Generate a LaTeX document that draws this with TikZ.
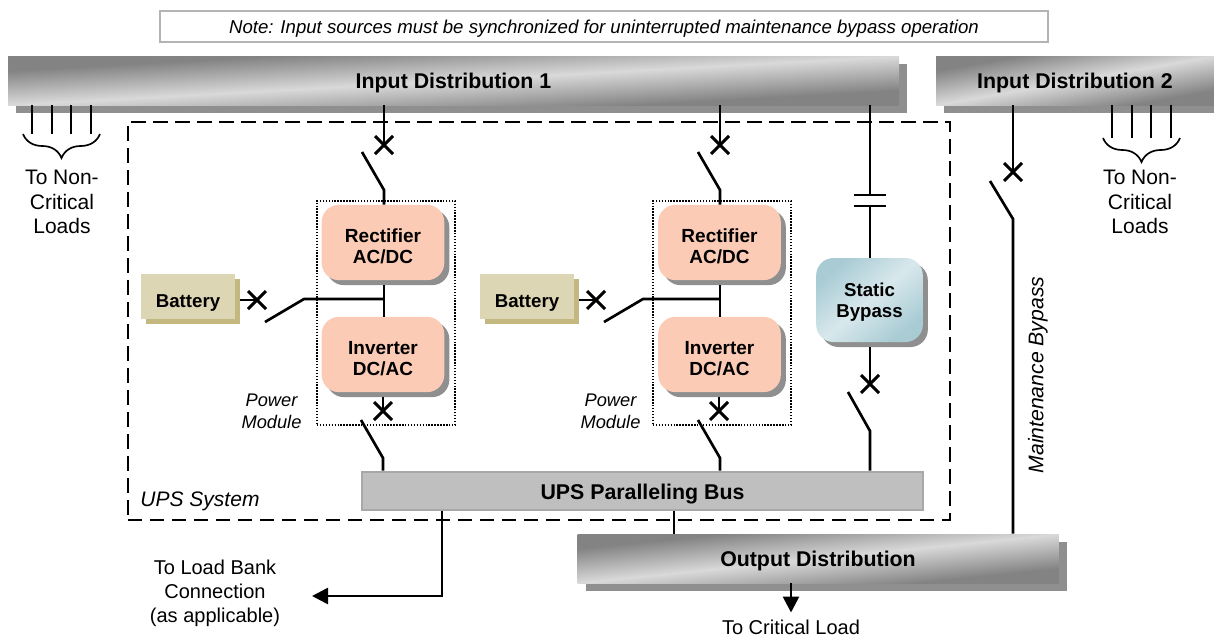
\documentclass[tikz,border=0pt]{standalone}
\usepackage{fontspec}
\setmainfont{Liberation Sans}
\usetikzlibrary{shadows,arrows.meta,decorations.pathreplacing}
\definecolor{barDark}{HTML}{838383}
\definecolor{barLight}{HTML}{D9D9D9}
\definecolor{shadowGray}{HTML}{8F8F8F}
\definecolor{modFill}{HTML}{FBCBB6}
\definecolor{batFill}{HTML}{DDD6B4}
\definecolor{batShadow}{HTML}{C3B87F}
\definecolor{statA}{HTML}{A8CBD4}
\definecolor{statB}{HTML}{D8E8EC}
\definecolor{busFill}{HTML}{BFBFBF}
\definecolor{busEdge}{HTML}{A8A8A8}
\definecolor{noteEdge}{HTML}{B4B4B4}
\newcommand{\lowtext}[2]{\raisebox{-#1}[\height][\depth]{\begin{tabular}{@{}c@{}}#2\end{tabular}}}
\tikzset{
  x=0.75pt,y=-0.75pt,
  bar/.style={inner sep=0pt,draw=none,fill=barLight,
    copy shadow={shadow xshift=6pt,shadow yshift=-6pt,fill=shadowGray,draw=none}},
  bartext/.style={inner sep=0pt,font=\fontsize{16}{18}\selectfont\bfseries},
  barshade/.style={top color=barDark,bottom color=barDark,middle color=barLight,shading angle=45},
  modbox/.style={inner sep=0pt,draw=none,fill=modFill,rounded corners=13pt,minimum width=92pt,minimum height=56.5pt,align=center,
    copy shadow={shadow xshift=3.75pt,shadow yshift=-3.75pt,fill=shadowGray,draw=none},
    font=\fontsize{14.25}{15.5}\selectfont\bfseries},
  batbox/.style={inner sep=0pt,draw=none,fill=batFill,minimum width=70.5pt,minimum height=33.75pt,
    copy shadow={shadow xshift=3.75pt,shadow yshift=-3.75pt,fill=batShadow,draw=none},
    font=\fontsize{14}{16}\selectfont\bfseries},
  statbox/.style={inner sep=0pt,draw=none,top color=statA,bottom color=statA,middle color=statB,shading angle=40,
    rounded corners=13pt,minimum width=80pt,minimum height=63pt,align=center,
    copy shadow={shadow xshift=3.75pt,shadow yshift=-3.75pt,fill=shadowGray,draw=none},
    font=\fontsize{14}{16}\selectfont\bfseries},
  dashbox/.style={draw=black,line width=1.5pt,dash pattern=on 11pt off 5.5pt,inner sep=0pt},
  dotbox/.style={draw=black,line width=1.1pt,dash pattern=on 1.1pt off 1.1pt,inner sep=0pt,minimum width=103.5pt,minimum height=168pt},
  wire/.style={line width=2pt,line cap=butt},
  xmark/.style={line width=2.2pt},
  brc/.style={line width=1.25pt,decorate,decoration={brace,mirror,amplitude=18pt,aspect=0.5}},
  lbl/.style={inner sep=0pt,align=center,font=\fontsize{15.75}{18.4}\selectfont},
  ital/.style={inner sep=0pt,align=center,font=\fontsize{13.7}{16.5}\selectfont\itshape},
  arr/.style={line width=2pt,-{Triangle[length=12pt,width=12pt]}},
}
\newcommand{\xsw}[1]{\draw[xmark] ([xshift=-6.75pt,yshift=6.75pt]#1)--([xshift=6.75pt,yshift=-6.75pt]#1) ([xshift=-6.75pt,yshift=-6.75pt]#1)--([xshift=6.75pt,yshift=6.75pt]#1);}
% name, cx, cy, width(px), height(px), text
\newcommand{\gradbar}[6]{%
  \node[bar,minimum width=#4*0.75pt,minimum height=#5*0.75pt] (#1) at (#2,#3) {};
  \begin{scope}[transform canvas={shift={(#2,#3)},xscale=#4/#5}]
    \shade[barshade] (-#5/2,-#5/2) rectangle (#5/2,#5/2);
  \end{scope}
  \node[bartext] (#1text) at (#1.center) {\lowtext{2.75pt}{#6}};
}
\begin{document}
\begin{tikzpicture}
\useasboundingbox (0,0) rectangle (1214,636);
% frames
\node[dashbox,minimum width=616.5pt,minimum height=298.5pt] (ups) at (538.75,321) {};
\node[dotbox] (mod1) at (386,313) {};
\node[dotbox] (mod2) at (722,313) {};
% note
\node[draw=noteEdge,line width=1.5pt,fill=white,minimum width=665.5pt,minimum height=23pt,inner sep=0pt,font=\fontsize{13.96}{15}\selectfont\itshape] (note) at (604,26.5) {\lowtext{2pt}{Note: Input sources must be synchronized for uninterrupted maintenance bypass operation}};
% bars
\gradbar{dist1}{453.5}{80.5}{891}{49}{Input Distribution 1}
\gradbar{dist2}{1075}{80.5}{278}{49}{Input Distribution 2}
\gradbar{out}{818}{558.5}{481}{49}{Output Distribution}
% modules
\node[modbox] (rect1) at (383,242.5) {\lowtext{5pt}{Rectifier\\AC/DC}};
\node[modbox] (inv1) at (383,354.5) {\lowtext{5pt}{Inverter\\DC/AC}};
\node[modbox] (rect2) at (719.5,242.5) {\lowtext{5pt}{Rectifier\\AC/DC}};
\node[modbox] (inv2) at (719.5,354.5) {\lowtext{5pt}{Inverter\\DC/AC}};
\node[batbox] (bat1) at (188,296.5) {\lowtext{5pt}{Battery}};
\node[batbox] (bat2) at (527,296.5) {\lowtext{5pt}{Battery}};
\node[statbox] (stat) at (869.5,300) {\lowtext{2pt}{Static\\Bypass}};
\node[draw=busEdge,line width=1.5pt,fill=busFill,minimum width=421pt,minimum height=29pt,inner sep=0pt,font=\fontsize{16}{18}\selectfont\bfseries] (bus) at (642.5,491) {\lowtext{2.75pt}{UPS Paralleling Bus}};
% coordinates
\coordinate (x1) at (384,145); \coordinate (s1a) at (362,152); \coordinate (s1b) at (384,190);
\coordinate (x2) at (720,145); \coordinate (s2a) at (698,152); \coordinate (s2b) at (720,190);
\coordinate (x3) at (383,411); \coordinate (s3a) at (361,420); \coordinate (s3b) at (383,458);
\coordinate (x4) at (719,411); \coordinate (s4a) at (698,420); \coordinate (s4b) at (720,458);
\coordinate (x5) at (870,384); \coordinate (s5a) at (848,392); \coordinate (s5b) at (870,431);
\coordinate (x6) at (1013,172); \coordinate (s6a) at (990,181); \coordinate (s6b) at (1013,219);
\coordinate (xb1) at (257,300); \coordinate (xb2) at (596,300);
\coordinate (c1) at (870,195); \coordinate (c2) at (870,206);
\coordinate (sb1a) at (265,322); \coordinate (sb1b) at (304,299); \coordinate (sb1c) at (384,299);
\coordinate (sb2a) at (604,322); \coordinate (sb2b) at (643,299); \coordinate (sb2c) at (720,299);
% wires from distribution 1
\draw[wire] (x1 |- dist1.south) -- (x1);
\draw[wire] (s1a) -- (s1b) -- (s1b |- rect1.north);
\draw[wire] (x2 |- dist1.south) -- (x2);
\draw[wire] (s2a) -- (s2b) -- (s2b |- rect2.north);
\draw[wire] (c1 |- dist1.south) -- (c1);
\draw[wire] (c2) -- (c2 |- stat.north);
\draw[wire] ([xshift=-12pt]c1) -- ([xshift=12pt]c1);
\draw[wire] ([xshift=-12pt]c2) -- ([xshift=12pt]c2);
% module internal
\draw[wire] (sb1c |- 0,285) -- (sb1c |- inv1.north);
\draw[wire] (sb2c |- 0,285) -- (sb2c |- inv2.north);
\draw[wire] ([xshift=3.75pt]bat1.east |- xb1) -- (xb1);
\draw[wire] ([xshift=3.75pt]bat2.east |- xb2) -- (xb2);
\draw[wire] (sb1a) -- (sb1b) -- (sb1c);
\draw[wire] (sb2a) -- (sb2b) -- (sb2c);
% below inverters
\draw[wire] (x3 |- 0,397) -- (x3);
\draw[wire] (x4 |- 0,397) -- (x4);
\draw[wire] (s3a) -- (s3b) -- (s3b |- bus.north);
\draw[wire] (s4a) -- (s4b) -- (s4b |- bus.north);
\draw[wire] (x5 |- 0,347) -- (x5);
\draw[wire] (s5a) -- (s5b) -- (s5b |- bus.north);
% maintenance bypass
\draw[wire] (x6 |- dist2.south) -- (x6);
\draw[wire] (s6a) -- (s6b) -- (s6b |- out.north);
% crosses
\foreach \c in {x1,x2,x3,x4,x5,x6,xb1,xb2}{\xsw{\c}}
% bus to outputs
\coordinate (lb1) at (442,596); \coordinate (lbend) at (312,596); \coordinate (bo) at (674,534);
\draw[wire] (bo |- bus.south) -- (bo |- out.north);
\draw[arr] (lb1 |- bus.south) -- (lb1) -- (lbend);
\node[lbl,font=\fontsize{15}{18}\selectfont] (lbl) at (215,593) {To Load Bank\\Connection\\(as applicable)};
\coordinate (oa) at (791,612.5);
\draw[arr] (oa |- out.south) -- (oa);
\node[lbl,font=\fontsize{15}{18}\selectfont] (crit) at (791,627) {To Critical Load};
% non-critical feeders
\foreach \xx in {32,52,71,91}{\draw[wire] (\xx,105) -- (\xx,134);}
\foreach \xx in {1112,1132,1151,1171}{\draw[wire] (\xx,105) -- (\xx,138);}
\coordinate (bl1) at (23,134); \coordinate (bl2) at (100,134);
\coordinate (br1) at (1103,138); \coordinate (br2) at (1180,138);
\draw[brc] (bl1) -- (bl2);
\draw[brc] (br1) -- (br2);
\node[lbl] (nc1) at (62,202) {To Non-\\Critical\\Loads};
\node[lbl] (nc2) at (1140,202) {To Non-\\Critical\\Loads};
% italics
\node[ital] (pm1) at (271.5,411) {Power\\Module};
\node[ital] (pm2) at (610.5,411) {Power\\Module};
\node[lbl,font=\fontsize{15.75}{18}\selectfont\itshape] (upslbl) at (200,501.5) {UPS System};
\node[lbl,font=\fontsize{15.9}{18}\selectfont\itshape,rotate=90] (mb) at (1038,375) {Maintenance Bypass};
\end{tikzpicture}
\end{document}
